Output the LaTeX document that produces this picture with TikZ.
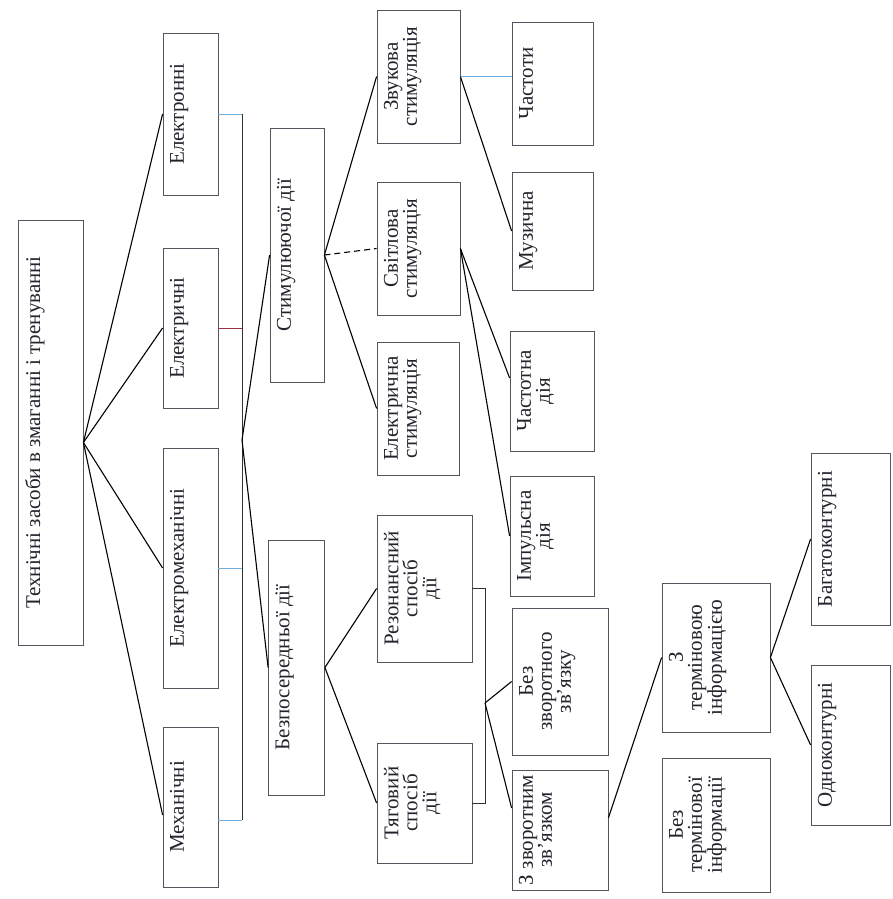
\documentclass[tikz,border=0pt]{standalone}
\usepackage{fontspec}
\setmainfont{Liberation Serif}
\usetikzlibrary{calc}
\definecolor{boxc}{RGB}{85,85,95}
\definecolor{thinc}{RGB}{110,175,220}
\definecolor{thinr}{RGB}{150,50,70}
\definecolor{txtc}{RGB}{35,35,45}
\newcommand\bxt[3]{\parbox[c][#1pt][t]{#2pt}{\vspace*{7pt}\centering #3\par}}
\tikzset{
  box/.style={draw=boxc, line width=0.8pt, rotate=90, inner sep=0pt, text=txtc,
    font=\fontsize{21}{19}\selectfont},
  conn/.style={draw=black, line width=1.1pt},
  dconn/.style={conn, dashed, dash pattern=on 6pt off 4pt},
  thin/.style={draw=thinc, line width=0.8pt},
  thinred/.style={draw=thinr, line width=0.8pt},
  bus/.style={draw=black!80, line width=0.8pt}
}
\begin{document}
\begin{tikzpicture}[x=1pt,y=-1pt]
\useasboundingbox (0,0) rectangle (892,899);
% level 0
\node[box] (root) at (50.5,432.5) {\bxt{65}{425}{Технічні засоби в змаганні і тренуванні}};
% level 1
\node[box] (eon)   at (190.5,114) {\bxt{55}{162}{Електронні}};
\node[box] (eic)   at (190.5,328) {\bxt{55}{160}{Електричні}};
\node[box] (emech) at (190.5,568) {\bxt{55}{240}{Електромеханічні}};
\node[box] (mech)  at (190.5,807) {\bxt{55}{160}{Механічні}};
% level 2
\node[box] (stim) at (297,255)   {\bxt{54}{254}{Стимулюючої дії}};
\node[box] (bezp) at (296.5,667.5) {\bxt{56}{255}{Безпосередньої дії}};
% level 3
\node[box] (zvuk) at (418.5,76.5)  {\bxt{83}{133}{Звукова\\стимуляція}};
\node[box] (svit) at (418.5,248.5) {\bxt{83}{133}{Світлова\\стимуляція}};
\node[box] (elst) at (418,408.5)   {\bxt{82}{133}{Електрична\\стимуляція}};
\node[box] (rez)  at (424.5,588.5) {\bxt{95}{147}{Резонансний\\спосіб\\дії}};
\node[box] (tyag) at (424.5,803)   {\bxt{95}{120}{Тяговий\\спосіб\\дії}};
% level 4
\node[box] (chast)  at (552.5,83.5) {\bxt{81}{123}{Частоти}};
\node[box] (muz)    at (552.5,231)  {\bxt{81}{118}{Музична}};
\node[box] (chastd) at (552,391)    {\bxt{84}{120}{Частотна\\дія}};
\node[box] (imp)    at (552,536)    {\bxt{84}{120}{Імпульсна\\дія}};
\node[box] (bezzv)  at (560,681.5)  {\bxt{96}{147}{Без\\зворотного\\зв’язку}};
\node[box] (zzv)    at (560,830)    {\bxt{96}{120}{З зворотним\\зв’язком}};
% level 5
\node[box] (zterm)   at (716,657.5) {\bxt{108}{149}{З\\терміновою\\інформацією}};
\node[box] (bezterm) at (716,825)   {\bxt{108}{134}{Без\\термінової\\інформації}};
% level 6
\node[box] (bagat) at (850.5,539) {\bxt{79}{172}{Багатоконтурні}};
\node[box] (odno)  at (850.5,745) {\bxt{79}{160}{Одноконтурні}};
% helper coordinates
\coordinate (rootR) at ($(root.south)+(0,10)$);
\coordinate (b1) at (242,440);
\coordinate (b2) at (485,703);
\coordinate (mechR) at ($(mech.south)+(0,13)$);
% root to level 1
\draw[conn] (rootR) -- (eon.north);
\draw[conn] (rootR) -- (eic.north);
\draw[conn] (rootR) -- (emech.north);
\draw[conn] (rootR) -- ($(mech.north)+(0,8)$);
% level 1 bus
\draw[thin] (eon.south) -- (eon.south -| b1);
\draw[thinred] (eic.south) -- (eic.south -| b1);
\draw[thin] (emech.south) -- (emech.south -| b1);
\draw[thin] (mechR) -- (mechR -| b1);
\draw[bus] (eon.south -| b1) -- (mechR -| b1);
\draw[conn] (b1) -- (stim.north);
\draw[conn] (b1) -- (bezp.north);
% stimulating
\draw[conn] (stim.south) -- (zvuk.north);
\draw[dconn] (stim.south) -- (svit.north);
\draw[conn] (stim.south) -- (elst.north);
\draw[thin] (zvuk.south) -- (zvuk.south -| chast.north);
\draw[conn] (zvuk.south) -- (muz.north);
\draw[conn] (svit.south) -- ($(chastd.north)+(0,-13)$);
\draw[conn] (svit.south) -- (imp.north);
% direct
\draw[conn] (bezp.south) -- (rez.north);
\draw[conn] (bezp.south) -- (tyag.north);
\draw[bus] (rez.south) -- (rez.south -| b2) -- (tyag.south -| b2) -- (tyag.south);
\draw[conn] (b2) -- (bezzv.north);
\draw[conn] (b2) -- ($(zzv.north)+(0,-22)$);
% feedback
\draw[conn] ($(zzv.south)+(0,-12)$) -- (zterm.north);
\draw[thin] ($(zzv.south)+(0,-5)$) -- ($(zzv.south)+(0,-5)$ -| bezterm.north);
\draw[conn] (zterm.south) -- (bagat.north);
\draw[conn] (zterm.south) -- (odno.north);
\end{tikzpicture}
\end{document}
